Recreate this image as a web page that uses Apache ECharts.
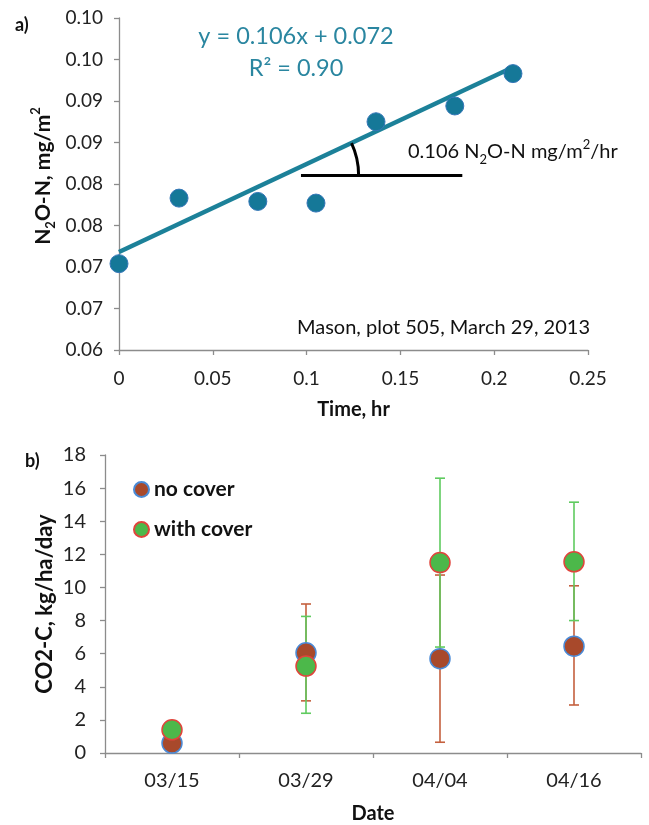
<!DOCTYPE html>
<html><head><meta charset="utf-8">
<script src="https://cdn.jsdelivr.net/npm/echarts@6/dist/echarts.min.js"></script>
<style>html,body{margin:0;padding:0;background:#fff}#c{width:649px;height:825px}</style>
</head><body><div id="c"></div>
<script>
// ---------- Panel a) ----------
const timeHr = [0, 0.032, 0.074, 0.105, 0.137, 0.179, 0.21];
const n2oN = [0.0704, 0.0783, 0.0779, 0.0777, 0.0875, 0.0894, 0.0933];
const trendSlope = 0.106;
const trendIntercept = 0.0718;
const aYTickLabels = ['0.06','0.07','0.07','0.08','0.08','0.09','0.09','0.10','0.10'];
const aXTickLabels = ['0','0.05','0.1','0.15','0.2','0.25'];
const slopeRefX = [0.097, 0.183];
const slopeRefY = 0.0811;
// ---------- Panel b) ----------
const dates = ['03/15','03/29','04/04','04/16'];
const noCover = [0.6, 6.05, 5.7, 6.45];
const noCoverLow = [null, 3.15, 0.65, 2.9];
const noCoverHigh = [null, 9.0, 10.75, 10.1];
const withCover = [1.4, 5.25, 11.5, 11.55];
const withCoverLow = [null, 2.4, 6.4, 8.0];
const withCoverHigh = [null, 8.25, 16.6, 15.15];
const bYTickLabels = ['0','2','4','6','8','10','12','14','16','18'];

const FONT = 'Lato, "Open Sans", sans-serif';
const TEAL = '#1c8199';
const AXIS = '#8c8c8c';

function errRender(color) {
  return function (params, api) {
    const lo = api.value(1), hi = api.value(2);
    if (lo == null || hi == null || isNaN(lo) || isNaN(hi)) return null;
    const a = api.coord([api.value(0), lo]);
    const b = api.coord([api.value(0), hi]);
    const w = 5, st = { stroke: color, lineWidth: 1.6 };
    return { type: 'group', children: [
      { type: 'line', shape: { x1: a[0], y1: a[1], x2: b[0], y2: b[1] }, style: st },
      { type: 'line', shape: { x1: a[0] - w, y1: a[1], x2: a[0] + w, y2: a[1] }, style: st },
      { type: 'line', shape: { x1: b[0] - w, y1: b[1], x2: b[0] + w, y2: b[1] }, style: st }
    ]};
  };
}

const xMax = Math.max.apply(null, timeHr);
const trendData = [[0, trendIntercept], [xMax, trendIntercept + trendSlope * xMax]];

const chart = echarts.init(document.getElementById('c'), null, { renderer: 'canvas' });
const option = {
  animation: false,
  backgroundColor: '#fff',
  textStyle: { fontFamily: FONT },
  grid: [
    { left: 119, right: 61, top: 18, bottom: 475, containLabel: false },
    { left: 105, right: 8, top: 455, bottom: 72, containLabel: false }
  ],
  legend: {
    orient: 'vertical', left: 128, top: 474, itemGap: 19,
    itemWidth: 15, itemHeight: 15, icon: 'circle',
    textStyle: { fontFamily: FONT, fontSize: 21, fontWeight: 'bold', color: '#111', padding: [0, 0, 0, 0] },
    data: ['no cover', 'with cover']
  },
  xAxis: [
    { gridIndex: 0, type: 'value', min: 0, max: 0.25, interval: 0.05,
      axisLine: { lineStyle: { color: AXIS, width: 1.3 } },
      axisTick: { show: true, length: 5, lineStyle: { color: AXIS, width: 1.3 } },
      splitLine: { show: false },
      axisLabel: { fontSize: 19, color: '#222', margin: 19, fontFamily: FONT,
        formatter: v => aXTickLabels[Math.round(v / 0.05)] },
      name: 'Time, hr', nameLocation: 'middle', nameGap: 50,
      nameTextStyle: { fontSize: 20, fontWeight: 'bold', color: '#111', fontFamily: FONT } },
    { gridIndex: 1, type: 'category', data: dates, boundaryGap: true,
      axisLine: { lineStyle: { color: AXIS, width: 1.3 } },
      axisTick: { show: true, length: 5, interval: 0, lineStyle: { color: AXIS, width: 1.3 } },
      axisLabel: { fontSize: 20, color: '#222', margin: 18, fontFamily: FONT },
      name: 'Date', nameLocation: 'middle', nameGap: 51,
      nameTextStyle: { fontSize: 20, fontWeight: 'bold', color: '#111', fontFamily: FONT } }
  ],
  yAxis: [
    { gridIndex: 0, type: 'value', min: 0.06, max: 0.10, interval: 0.005,
      axisLine: { show: true, lineStyle: { color: AXIS, width: 1.3 } },
      axisTick: { show: true, length: 5, lineStyle: { color: AXIS, width: 1.3 } },
      splitLine: { show: false },
      axisLabel: { fontSize: 19, color: '#222', margin: 16, fontFamily: FONT,
        formatter: v => aYTickLabels[Math.round((v - 0.06) / 0.005)] } },
    { gridIndex: 1, type: 'value', min: 0, max: 18, interval: 2,
      axisLine: { show: true, lineStyle: { color: AXIS, width: 1.3 } },
      axisTick: { show: true, length: 5, lineStyle: { color: AXIS, width: 1.3 } },
      splitLine: { show: false },
      axisLabel: { fontSize: 20, color: '#222', margin: 19, fontFamily: FONT,
        formatter: v => bYTickLabels[Math.round(v / 2)] } }
  ],
  series: [
    { name: 'trend', type: 'line', xAxisIndex: 0, yAxisIndex: 0, data: trendData,
      showSymbol: false, symbol: 'none', lineStyle: { color: TEAL, width: 4.5 }, z: 2,
      markLine: { silent: true, symbol: 'none', label: { show: false },
        lineStyle: { color: '#000', width: 3, type: 'solid' },
        data: [[{ coord: [slopeRefX[0], slopeRefY] }, { coord: [slopeRefX[1], slopeRefY] }]] } },
    { name: 'N2O-N', type: 'scatter', xAxisIndex: 0, yAxisIndex: 0,
      data: timeHr.map((t, i) => [t, n2oN[i]]), symbolSize: 18,
      itemStyle: { color: '#157898', borderColor: '#3577b8', borderWidth: 1, opacity: 1 }, z: 3 },
    { name: 'errNo', type: 'custom', xAxisIndex: 1, yAxisIndex: 1,
      data: dates.map((d, i) => [i, noCoverLow[i], noCoverHigh[i]]),
      renderItem: errRender('#c4603e'), z: 1, silent: true },
    { name: 'errWith', type: 'custom', xAxisIndex: 1, yAxisIndex: 1,
      data: dates.map((d, i) => [i, withCoverLow[i], withCoverHigh[i]]),
      renderItem: errRender('#5fcb5f'), z: 1, silent: true },
    { name: 'no cover', type: 'scatter', xAxisIndex: 1, yAxisIndex: 1, data: noCover,
      symbolSize: 20, itemStyle: { color: '#a8492b', borderColor: '#4a8ad6', borderWidth: 1.5, opacity: 1 }, z: 3 },
    { name: 'with cover', type: 'scatter', xAxisIndex: 1, yAxisIndex: 1, data: withCover,
      symbolSize: 20, itemStyle: { color: '#4cb84a', borderColor: '#e0443c', borderWidth: 1.5, opacity: 1 }, z: 4 }
  ]
};
chart.setOption(option);

// angle arc between the horizontal reference and the trend line
const xi = (slopeRefY - trendIntercept) / trendSlope;
const c0 = chart.convertToPixel({ gridIndex: 0 }, [xi, slopeRefY]);
const c1 = chart.convertToPixel({ gridIndex: 0 }, [xi + 0.1, trendIntercept + trendSlope * (xi + 0.1)]);
const ang = Math.atan2(c0[1] - c1[1], c1[0] - c0[0]);
const r = 75;

chart.setOption({
  graphic: [
    { type: 'arc', shape: { cx: c0[0], cy: c0[1], r: r, startAngle: -ang, endAngle: 0, clockwise: true },
      style: { stroke: '#000', lineWidth: 3, fill: null }, z: 10 },
    { type: 'text', left: 15, top: 16, style: { text: 'a)', font: 'bold 18px ' + FONT, fill: '#111' } },
    { type: 'text', left: 25, top: 452, style: { text: 'b)', font: 'bold 18px ' + FONT, fill: '#111' } },
    { type: 'text', x: 296, y: 36, style: { text: 'y = 0.106x + 0.072', font: '23.5px ' + FONT, fill: '#2a86a0', align: 'center', verticalAlign: 'middle' } },
    { type: 'text', x: 296, y: 68, style: { text: 'R² = 0.90', font: '23.5px ' + FONT, fill: '#2a86a0', align: 'center', verticalAlign: 'middle' } },
    { type: 'text', x: 408, y: 152, style: {
        text: '{n|0.106 N}{s|2}{n|O-N mg/m}{p|2}{n|/hr}', verticalAlign: 'middle',
        rich: {
          n: { fontFamily: FONT, fontSize: 20, fill: '#111', lineHeight: 28, verticalAlign: 'middle' },
          s: { fontFamily: FONT, fontSize: 13, fill: '#111', lineHeight: 28, verticalAlign: 'bottom' },
          p: { fontFamily: FONT, fontSize: 13, fill: '#111', lineHeight: 28, verticalAlign: 'top' }
        } } },
    { type: 'text', x: 590, y: 328, style: { text: 'Mason, plot 505, March 29, 2013', font: '20px ' + FONT, fill: '#111', align: 'right', verticalAlign: 'middle' } },
    { type: 'text', x: 43, y: 176, rotation: Math.PI / 2, style: {
        text: '{n|N}{s|2}{n|O-N, mg/m}{p|2}', align: 'center', verticalAlign: 'middle',
        rich: {
          n: { fontFamily: FONT, fontSize: 21, fontWeight: 'bold', fill: '#111', lineHeight: 28, verticalAlign: 'middle' },
          s: { fontFamily: FONT, fontSize: 13, fontWeight: 'bold', fill: '#111', lineHeight: 28, verticalAlign: 'bottom' },
          p: { fontFamily: FONT, fontSize: 13, fontWeight: 'bold', fill: '#111', lineHeight: 28, verticalAlign: 'top' }
        } } },
    { type: 'text', x: 45, y: 604, rotation: Math.PI / 2, style: {
        text: 'CO2-C, kg/ha/day', font: 'bold 22px ' + FONT, fill: '#111', align: 'center', verticalAlign: 'middle' } }
  ]
});
</script>
</body></html>
